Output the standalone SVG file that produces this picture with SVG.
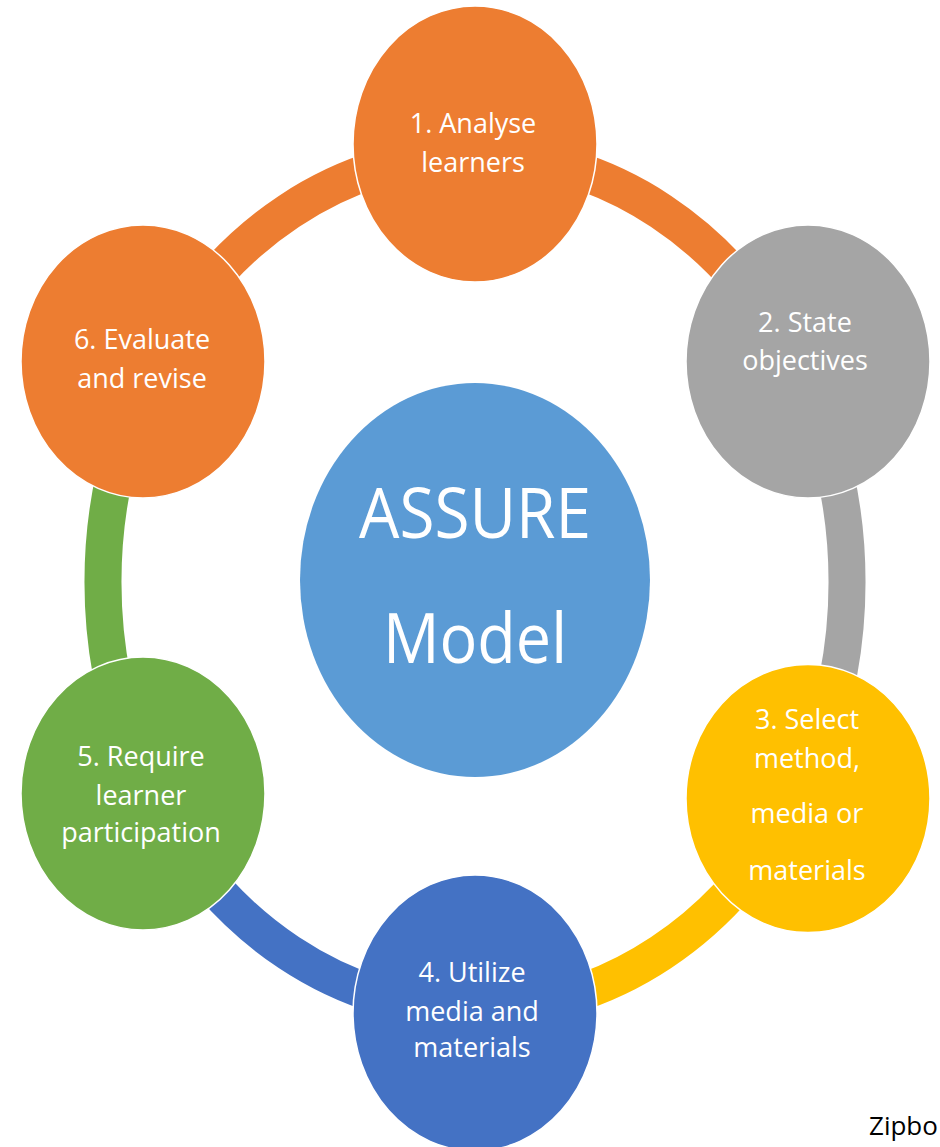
<svg xmlns="http://www.w3.org/2000/svg" width="940" height="1147" viewBox="0 0 940 1147">
<style>
.ring{fill:none;stroke-width:37;stroke-linecap:butt}
.node{stroke:#ffffff;stroke-width:1.5}
.lbl{font-family:"Open Sans","Liberation Sans",sans-serif;font-size:27px;fill:#ffffff;text-anchor:middle}
.big{font-family:"Open Sans","Liberation Sans",sans-serif;font-size:70px;fill:#ffffff;text-anchor:middle}
</style>
<rect width="940" height="1147" fill="#ffffff"/>
<g id="connectors">
<path class="ring" stroke="#ED7D31" d="M475 154 A372 428 0 0 1 797.2 368"/>
<path class="ring" stroke="#A5A5A5" d="M797.2 368 A372 428 0 0 1 797.2 796"/>
<path class="ring" stroke="#FFC000" d="M797.2 796 A372 428 0 0 1 475 1010"/>
<path class="ring" stroke="#4472C4" d="M475 1010 A372 428 0 0 1 152.8 796"/>
<path class="ring" stroke="#70AD47" d="M152.8 796 A372 428 0 0 1 152.8 368"/>
<path class="ring" stroke="#ED7D31" d="M152.8 368 A372 428 0 0 1 475 154"/>
</g>
<g id="center">
<ellipse cx="475" cy="580" rx="175" ry="197" fill="#5B9BD5"/>
<text class="big" x="475" y="538" textLength="232" lengthAdjust="spacingAndGlyphs">ASSURE</text>
<text class="big" x="475" y="663" textLength="184" lengthAdjust="spacingAndGlyphs">Model</text>
</g>
<g id="node1">
<ellipse class="node" cx="475" cy="144" rx="122" ry="138" fill="#ED7D31"/>
<text class="lbl" x="473" y="133">1. Analyse</text>
<text class="lbl" x="473" y="172">learners</text>
</g>
<g id="node2">
<ellipse class="node" cx="808" cy="361.5" rx="122" ry="136.5" fill="#A5A5A5"/>
<text class="lbl" x="805" y="332">2. State</text>
<text class="lbl" x="805" y="370">objectives</text>
</g>
<g id="node3">
<ellipse class="node" cx="808" cy="798.5" rx="122" ry="134" fill="#FFC000"/>
<text class="lbl" x="807" y="729">3. Select</text>
<text class="lbl" x="807" y="768">method,</text>
<text class="lbl" x="807" y="823">media or</text>
<text class="lbl" x="807" y="880">materials</text>
</g>
<g id="node4">
<ellipse class="node" cx="475" cy="1013" rx="122" ry="138" fill="#4472C4"/>
<text class="lbl" x="472" y="982">4. Utilize</text>
<text class="lbl" x="472" y="1021">media and</text>
<text class="lbl" x="472" y="1057">materials</text>
</g>
<g id="node5">
<ellipse class="node" cx="143" cy="793.5" rx="122" ry="136.5" fill="#70AD47"/>
<text class="lbl" x="141" y="766">5. Require</text>
<text class="lbl" x="141" y="805">learner</text>
<text class="lbl" x="141" y="842">participation</text>
</g>
<g id="node6">
<ellipse class="node" cx="143" cy="361.5" rx="122" ry="136.5" fill="#ED7D31"/>
<text class="lbl" x="142" y="349">6. Evaluate</text>
<text class="lbl" x="142" y="388">and revise</text>
</g>
<text x="869" y="1135" font-family="Open Sans, Liberation Sans, sans-serif" font-size="26" fill="#000000">Zipbo</text>
</svg>
